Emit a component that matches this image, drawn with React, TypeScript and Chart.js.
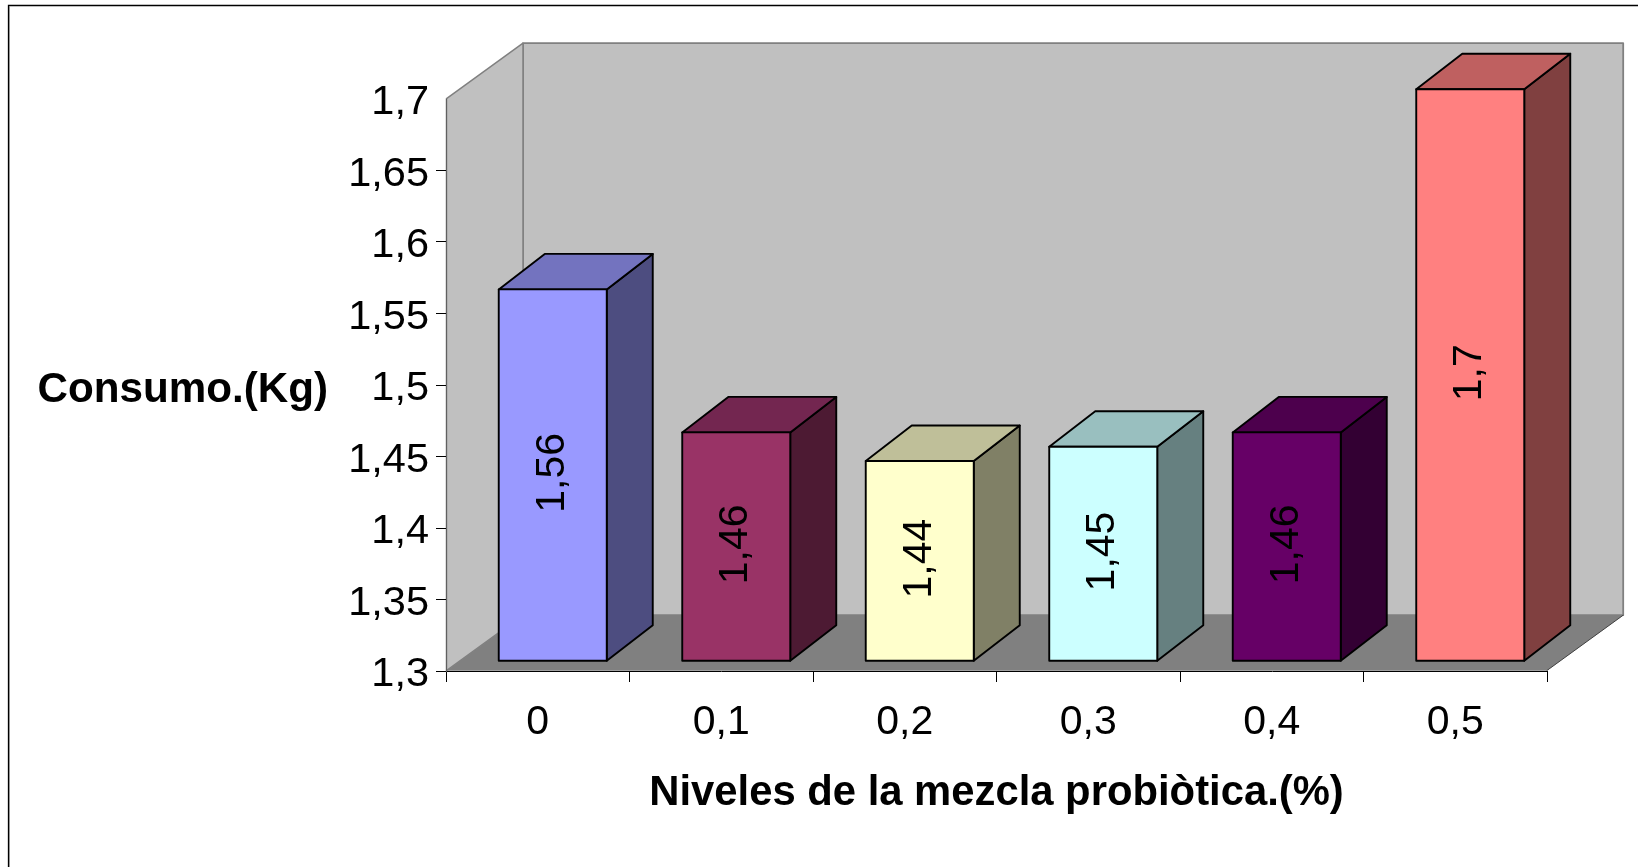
import React, { useEffect, useRef } from "react";
import { Chart, registerables } from "chart.js";

Chart.register(...registerables);

const categories = ["0", "0,1", "0,2", "0,3", "0,4", "0,5"];
const consumo = [1.56, 1.46, 1.44, 1.45, 1.46, 1.7];
const barLabels = ["1,56", "1,46", "1,44", "1,45", "1,46", "1,7"];
const yTickLabels = ["1,3", "1,35", "1,4", "1,45", "1,5", "1,55", "1,6", "1,65", "1,7"];
const frontColors = ["#9999FF", "#993366", "#FFFFCC", "#CCFFFF", "#660066", "#FF8080"];
const topColors = ["#7373BF", "#732650", "#BFBF99", "#99BFBF", "#4D004D", "#BF6060"];
const sideColors = ["#4D4D80", "#4D1A33", "#808066", "#668080", "#330033", "#804040"];
const xTitle = "Niveles de la mezcla probiòtica.(%)";
const yTitle = "Consumo.(Kg)";
const axisMin = 1.3;
const axisMax = 1.7;

const FONT = '"Liberation Sans", Arial, sans-serif';
const W = 1638;
const H = 867;
const AREA = { left: 446, right: 1547, top: 99, bottom: 671 };
const WALL = { dx: 76.5, dy: 55.5 };
const BAR_SHIFT = { x: 15, y: -9.8 };
const BAR_DEPTH = { dx: 46, dy: 35.5 };
const EDGE = 1.9;

function poly(ctx: CanvasRenderingContext2D, pts: number[][], fill: string | null, stroke?: string, lw = 1) {
  ctx.beginPath();
  pts.forEach((p, i) => (i ? ctx.lineTo(p[0], p[1]) : ctx.moveTo(p[0], p[1])));
  ctx.closePath();
  if (fill) {
    ctx.fillStyle = fill;
    ctx.fill();
  }
  if (stroke) {
    ctx.strokeStyle = stroke;
    ctx.lineWidth = lw;
    ctx.lineJoin = "round";
    ctx.stroke();
  }
}

const scenePlugin = {
  id: "scene",
  beforeDraw(chart: any) {
    const { ctx, chartArea: a } = chart;
    ctx.save();
    // outer frame
    ctx.strokeStyle = "#B0B0B0";
    ctx.lineWidth = 1;
    ctx.beginPath();
    ctx.moveTo(9.5, H);
    ctx.lineTo(9.5, 6.5);
    ctx.stroke();
    ctx.strokeStyle = "#000";
    ctx.lineWidth = 1.3;
    ctx.beginPath();
    ctx.moveTo(8.5, H);
    ctx.lineTo(8.5, 5.5);
    ctx.lineTo(W, 5.5);
    ctx.stroke();

    const l = a.left + 0.5;
    const r = a.right - 0.3;
    const t = a.top - 0.3;
    const b = a.bottom - 0.3;
    const { dx, dy } = WALL;
    // back wall
    poly(ctx, [[l + dx, t - dy], [r + dx, t - dy], [r + dx, b - dy], [l + dx, b - dy]], "#C0C0C0", "#808080", 1.8);
    // left wall
    poly(ctx, [[l, t], [l + dx, t - dy], [l + dx, b - dy], [l, b]], "#C0C0C0", "#808080", 1.5);
    // floor
    poly(ctx, [[l, b], [r, b], [r + dx, b - dy], [l + dx, b - dy]], "#808080");
    ctx.strokeStyle = "#404040";
    ctx.lineWidth = 1;
    ctx.beginPath();
    ctx.moveTo(r, b);
    ctx.lineTo(r + dx, b - dy);
    ctx.stroke();
    ctx.restore();

    // horizontal y-axis title
    ctx.save();
    ctx.fillStyle = "#000";
    ctx.font = `bold 42.2px ${FONT}`;
    ctx.textAlign = "left";
    ctx.textBaseline = "middle";
    ctx.fillText(yTitle, 37.5, 390);
    ctx.restore();
  },
  beforeDatasetsDraw(chart: any) {
    const { ctx } = chart;
    const meta = chart.getDatasetMeta(0);
    ctx.save();
    ctx.translate(BAR_SHIFT.x, BAR_SHIFT.y);
    meta.data.forEach((el: any, i: number) => {
      const { x, y, base, width } = el.getProps(["x", "y", "base", "width"], true);
      const left = x - width / 2;
      const right = x + width / 2;
      const { dx, dy } = BAR_DEPTH;
      poly(ctx, [[right, y], [right + dx, y - dy], [right + dx, base - dy], [right, base]], sideColors[i], "#000", EDGE);
      poly(ctx, [[left, y], [left + dx, y - dy], [right + dx, y - dy], [right, y]], topColors[i], "#000", EDGE);
    });
  },
  afterDatasetsDraw(chart: any) {
    const { ctx } = chart;
    const meta = chart.getDatasetMeta(0);
    meta.data.forEach((el: any, i: number) => {
      const { x, y, base, width } = el.getProps(["x", "y", "base", "width"], true);
      const left = x - width / 2;
      const right = x + width / 2;
      poly(ctx, [[left, y], [right, y], [right, base], [left, base]], null, "#000", EDGE);
      ctx.save();
      ctx.translate(x - 0.5, (y + base) / 2 - 2.2);
      ctx.rotate(-Math.PI / 2);
      ctx.fillStyle = "#000";
      ctx.font = `41px ${FONT}`;
      ctx.textAlign = "center";
      ctx.textBaseline = "middle";
      ctx.fillText(barLabels[i], 0, 0);
      ctx.restore();
    });
    ctx.restore();
  },
};

export default function App() {
  const ref = useRef<HTMLCanvasElement>(null);
  useEffect(() => {
    const chart = new Chart(ref.current!, {
      type: "bar",
      data: {
        labels: categories,
        datasets: [
          {
            label: yTitle,
            data: consumo,
            base: axisMin,
            backgroundColor: frontColors,
            borderWidth: 0,
            barPercentage: 0.5886,
            categoryPercentage: 1,
            clip: false as any,
          },
        ],
      },
      options: {
        responsive: false,
        animation: false,
        events: [],
        layout: {
          padding: { top: AREA.top, right: W - AREA.right, left: 0, bottom: 0 },
        },
        plugins: { legend: { display: false }, tooltip: { enabled: false }, title: { display: false } },
        scales: {
          x: {
            type: "category",
            offset: true,
            afterFit: (s: any) => {
              s.height = H - AREA.bottom;
            },
            grid: {
              drawOnChartArea: false,
              drawTicks: true,
              tickLength: 11,
              tickColor: "#000",
              offset: true,
            },
            border: { color: "#000", width: 1 },
            ticks: {
              color: "#000",
              font: { family: FONT, size: 41 },
              padding: 16,
              maxRotation: 0,
              autoSkip: false,
            },
            title: {
              display: true,
              text: xTitle,
              color: "#000",
              font: { family: FONT, size: 41.8, weight: "bold" },
              padding: { top: 0, bottom: 48 },
            },
          },
          y: {
            type: "linear",
            min: axisMin,
            max: axisMax,
            afterFit: (s: any) => {
              s.width = AREA.left;
            },
            afterTickToLabelConversion: (s: any) => {
              s.ticks.forEach((t: any, i: number) => {
                t.label = yTickLabels[i];
              });
            },
            grid: {
              drawOnChartArea: false,
              drawTicks: true,
              tickLength: 10,
              tickColor: (c: any) => (c.index === yTickLabels.length - 1 ? "rgba(0,0,0,0)" : "#000"),
            },
            border: { color: "#606060", width: 1 },
            ticks: {
              color: "#000",
              stepSize: 0.05,
              font: { family: FONT, size: 41.5 },
              padding: 7,
              labelOffset: 4,
              autoSkip: false,
            },
          },
        },
      },
      plugins: [scenePlugin],
    } as any);
    return () => chart.destroy();
  }, []);
  return (
    <canvas
      ref={ref}
      width={W}
      height={H}
      style={{ position: "fixed", left: 0, top: 0, width: W, height: H, display: "block" }}
    />
  );
}
